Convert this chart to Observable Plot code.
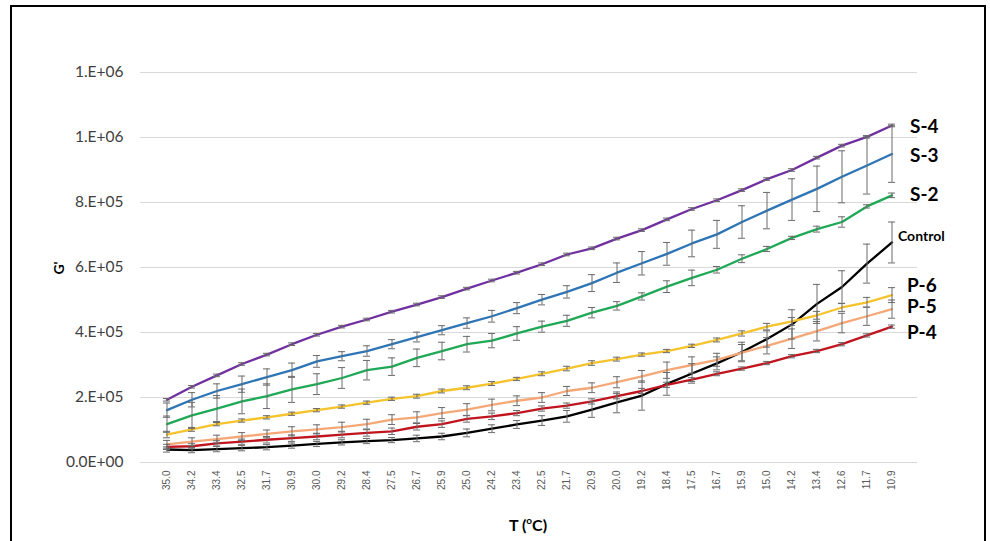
<!DOCTYPE html>
<html>
<head>
<meta charset="utf-8">
<script src="https://cdn.jsdelivr.net/npm/d3@7"></script>
<script src="https://cdn.jsdelivr.net/npm/@observablehq/plot@0.6"></script>
<style>
  html, body { margin: 0; padding: 0; background: #fff; overflow: hidden; }
  #wrap { position: relative; width: 990px; height: 541px; overflow: hidden; }
  #frame { position: absolute; left: 10px; top: 5px; width: 976px; height: 600px; border: 2px solid #000; box-sizing: border-box; }
  #chart { position: absolute; left: 0; top: 0; }
  #chart svg { background: transparent; }
  g[aria-label^="x-axis"] text { font-family: "Liberation Sans", Arial, sans-serif; font-size: 10px; fill: #595959; }
  g[aria-label^="y-axis"] text { font-family: Lato, "Open Sans", sans-serif; font-size: 15.5px; fill: #404040; }
  .ylab { position: absolute; left: 58px; top: 268px; transform: translate(-50%, -50%) rotate(-90deg); font: bold 14px Lato, sans-serif; color: #000; }
  .xlab { position: absolute; left: 528px; top: 524px; transform: translate(-50%, -50%); font: bold 16px Lato, sans-serif; color: #000; white-space: nowrap; }
  .xlab sup { font-size: 10px; }
</style>
</head>
<body>
<div id="wrap">
  <div id="frame"></div>
  <div id="chart"></div>
  <div class="ylab">G'</div>
  <div class="xlab">T (<sup>o</sup>C)</div>
</div>
<script>
// Categories (temperature, °C)
const temps = ["35.0","34.2","33.4","32.5","31.7","30.9","30.0","29.2","28.4","27.5","26.7","25.9","25.0","24.2","23.4","22.5","21.7","20.9","20.0","19.2","18.4","17.5","16.7","15.9","15.0","14.2","13.4","12.6","11.7","10.9"];

// Y axis ticks and their labels
const yTicks = [0, 200000, 400000, 600000, 800000, 1000000, 1200000];
const yLabels = ["0.0E+00", "2.E+05", "4.E+05", "6.E+05", "8.E+05", "1.E+06", "1.E+06"];

// Series names
const seriesNames = ["S-4", "S-3", "S-2", "Control", "P-6", "P-5", "P-4"];

// G' values
const s4 = [193000,233000,268000,303000,332000,364000,393000,418000,440000,464000,486000,509000,535000,560000,584000,610000,640000,659000,689000,715000,748000,780000,807000,838000,872000,900000,938000,975000,1002000,1037000];
const s3 = [161000,193000,220000,241000,263000,284000,311000,327000,343000,364000,386000,407000,429000,450000,475000,501000,525000,552000,584000,613000,642000,674000,702000,740000,775000,809000,842000,879000,914000,949000];
const s2 = [118000,145000,166000,188000,204000,225000,241000,260000,284000,295000,322000,343000,364000,375000,397000,418000,436000,461000,482000,511000,541000,568000,593000,627000,657000,691000,718000,740000,788000,822000];
const control = [40000,38000,41000,44000,47000,52000,57000,62000,66000,69000,74000,80000,91000,104000,117000,129000,142000,163000,185000,206000,242000,274000,305000,340000,380000,425000,488000,540000,612000,677000];
const p6 = [86000,102000,118000,129000,139000,150000,161000,172000,184000,196000,204000,220000,230000,243000,257000,273000,289000,306000,318000,332000,343000,359000,377000,397000,418000,434000,453000,477000,493000,515000];
const p5 = [56000,64000,72000,80000,88000,96000,102000,109000,118000,132000,139000,152000,163000,177000,190000,200000,220000,230000,247000,265000,284000,300000,316000,338000,359000,381000,404000,429000,450000,472000];
const p4 = [48000,50000,59000,64000,70000,75000,80000,86000,91000,96000,110000,118000,134000,142000,152000,166000,175000,188000,204000,220000,239000,255000,273000,289000,306000,327000,343000,364000,391000,418000];

// Error bar half-widths
const s4Err = [4000,4000,4000,4000,4000,4000,4000,4000,4000,4000,4000,4000,4000,4000,4000,4000,4000,4000,4000,4000,4000,4000,4000,4000,4000,4000,4000,4000,4000,4000];
const s3Err = [22000,22000,22000,25000,25000,22000,18000,14000,16000,14000,15000,14000,16000,18000,17000,16000,19000,26000,30000,36000,35000,41000,43000,50000,56000,64000,70000,80000,88000,87000];
const s2Err = [25000,40000,40000,38000,38000,40000,32000,32000,30000,27000,27000,27000,24000,22000,21000,17000,17000,16000,13000,11000,18000,24000,10000,12000,8000,5000,9000,16000,5000,7000];
const controlErr = [8000,8000,8000,8000,8000,8000,8000,8000,8000,8000,10000,10000,12000,12000,12000,15000,18000,24000,32000,45000,35000,30000,20000,30000,25000,45000,60000,50000,60000,63000];
const p6Err = [10000,6000,5000,5000,5000,5000,5000,5000,5000,5000,6000,6000,6000,6000,5000,6000,7000,7000,6000,5000,5000,5000,6000,8000,10000,12000,12000,12000,15000,23000];
const p5Err = [12000,12000,12000,12000,12000,14000,14000,15000,15000,15000,17000,17000,18000,18000,15000,15000,14000,15000,17000,18000,25000,25000,20000,25000,25000,30000,30000,30000,28000,28000];
const p4Err = [8000,8000,8000,8000,10000,10000,10000,10000,10000,10000,10000,10000,10000,10000,8000,8000,8000,8000,8000,8000,8000,6000,6000,5000,5000,5000,5000,5000,5000,5000];

// Styles (not data)
const colors = {"S-4":"#7030A0","S-3":"#2E75B6","S-2":"#1FA855","Control":"#000000","P-6":"#F5C32C","P-5":"#F4A877","P-4":"#C0141E"};
const labelStyle = {
  "S-4": {dx: 18, dy: 1, size: 19},
  "S-3": {dx: 18, dy: 2, size: 19},
  "S-2": {dx: 18, dy: 0, size: 19},
  "Control": {dx: 6, dy: -6, size: 14},
  "P-6": {dx: 15, dy: -9, size: 19},
  "P-5": {dx: 15, dy: -2, size: 19},
  "P-4": {dx: 15, dy: 6, size: 19}
};

const valuesBy = {"S-4": s4, "S-3": s3, "S-2": s2, "Control": control, "P-6": p6, "P-5": p5, "P-4": p4};
const errBy = {"S-4": s4Err, "S-3": s3Err, "S-2": s2Err, "Control": controlErr, "P-6": p6Err, "P-5": p5Err, "P-4": p4Err};

const rows = [];
for (const s of seriesNames) {
  temps.forEach((t, i) => {
    const v = valuesBy[s][i], e = errBy[s][i];
    rows.push({series: s, T: t, v, lo: v - e, hi: v + e});
  });
}
const lastRows = rows.filter(d => d.T === temps[temps.length - 1]);

const W = 990, H = 541;
const mL = 140, mR = 73, mT = 72, mB = 79;
const bw = (W - mL - mR) / temps.length;
const capInset = (bw - 8) / 2;

const marks = [
  Plot.ruleY(yTicks, {stroke: "#d9d9d9", strokeWidth: 1}),
  ...seriesNames.map(s => Plot.line(rows.filter(d => d.series === s), {x: "T", y: "v", stroke: colors[s], strokeWidth: 2.3})),
  Plot.ruleX(rows, {x: "T", y1: "lo", y2: "hi", stroke: "#6a6a6a", strokeWidth: 1}),
  Plot.tickY(rows, {x: "T", y: "lo", stroke: "#6a6a6a", strokeWidth: 1, insetLeft: capInset, insetRight: capInset}),
  Plot.tickY(rows, {x: "T", y: "hi", stroke: "#6a6a6a", strokeWidth: 1, insetLeft: capInset, insetRight: capInset}),
  ...seriesNames.map(s => Plot.text(lastRows.filter(d => d.series === s), {
    x: "T", y: "v", text: "series", textAnchor: "start",
    dx: labelStyle[s].dx, dy: labelStyle[s].dy,
    fontSize: labelStyle[s].size, fontWeight: "bold", fontFamily: "Lato, sans-serif", fill: "#000"
  }))
];

const chart = Plot.plot({
  width: W, height: H,
  marginLeft: mL, marginRight: mR, marginTop: mT, marginBottom: mB,
  style: {background: "transparent", overflow: "visible"},
  x: {type: "band", domain: temps, padding: 0, tickRotate: -90, tickSize: 0, tickPadding: 8, label: null},
  y: {domain: [0, 1200000], ticks: yTicks, tickFormat: (d) => yLabels[yTicks.indexOf(d)], tickSize: 0, tickPadding: 17, label: null},
  marks
});
document.getElementById("chart").appendChild(chart);
</script>
</body>
</html>
